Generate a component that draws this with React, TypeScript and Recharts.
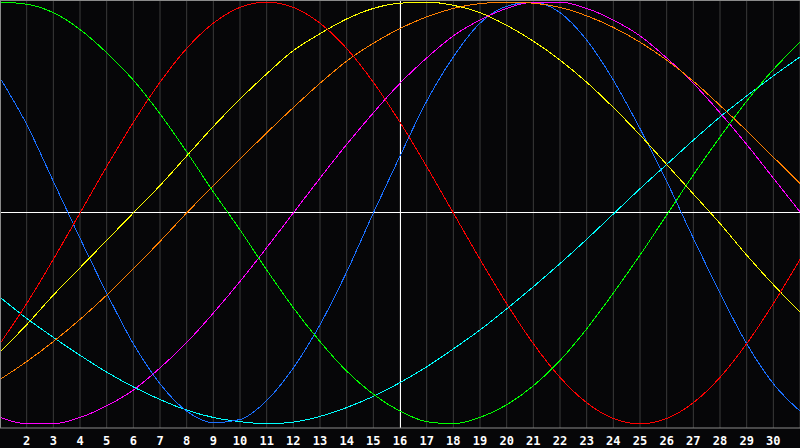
import React from "react";
import {
  LineChart,
  Line,
  XAxis,
  YAxis,
  CartesianGrid,
  ReferenceLine,
} from "recharts";

// day of month on the x axis, cycle values in -100..100
const days = [
  1, 2, 3, 4, 5, 6, 7, 8, 9, 10, 11, 12, 13, 14, 15, 16, 17, 18, 19, 20, 21,
  22, 23, 24, 25, 26, 27, 28, 29, 30, 31,
];
const tickDays = [
  2, 3, 4, 5, 6, 7, 8, 9, 10, 11, 12, 13, 14, 15, 16, 17, 18, 19, 20, 21, 22,
  23, 24, 25, 26, 27, 28, 29, 30,
];

const green = [
  100, 99, 95, 87, 76, 63, 47, 29, 10, -8, -27, -45, -61, -75, -86, -94, -99,
  -100, -97, -91, -82, -70, -55, -38, -20, -1, 18, 36, 53, 68, 81,
];
const red = [
  -62, -43, -22, 0, 22, 43, 62, 78, 90, 97.5, 100, 97.5, 90, 78, 62, 43, 22, 0,
  -22, -43, -62, -78, -90, -97.5, -100, -97.5, -90, -78, -62, -43, -22,
];
const yellow = [
  -66, -53, -39, -26, -13, 0, 13, 27, 41, 54, 66, 77, 85, 92, 97, 99.5, 100,
  98.5, 95, 89, 81.5, 72.5, 62, 50, 37, 23, 9, -5, -20, -34, -47,
];
const orange = [
  -79, -70.5, -61, -50.5, -39, -26.5, -13.5, 0, 13, 25.5, 38, 50, 61.5, 72,
  80.5, 87.5, 93, 97, 99.3, 100, 99.5, 97.5, 93.5, 88, 81, 72.5, 62.5, 51, 39,
  26.5, 14,
];
const magenta = [
  -97, -100, -100, -97, -91.5, -84, -73.5, -61.5, -47.5, -32.5, -16.5, 0, 16.5,
  32.5, 47.5, 61.5, 73.5, 84, 91.5, 97, 100, 100, 97, 91.5, 84, 73.5, 61.5,
  47.5, 32.5, 16.5, 0.5,
];
const blue = [
  64, 42, 15, -12, -38, -62, -81, -94, -99.5, -98, -89, -73.5, -53, -28, 0, 27,
  53, 74, 90, 98, 100, 95, 82, 63, 40, 15, -12, -38, -62, -81, -94,
];
const cyan = [
  -40, -50, -59, -67.5, -75.5, -82.5, -88.5, -93.5, -97, -99, -100, -99.2,
  -96.5, -92.3, -87, -80.5, -73, -64.5, -55.5, -45.5, -35, -24, -12.5, -0.5,
  11.5, 23, 34.5, 45.5, 55.5, 65, 74,
];

const data = days.map((d, i) => ({
  day: d,
  green: green[i],
  red: red[i],
  yellow: yellow[i],
  orange: orange[i],
  magenta: magenta[i],
  blue: blue[i],
  cyan: cyan[i],
}));

const series = [
  { key: "cyan", color: "#00ffff" },
  { key: "blue", color: "#1a6fff" },
  { key: "magenta", color: "#ff00ff" },
  { key: "orange", color: "#ff8000" },
  { key: "yellow", color: "#ffff00" },
  { key: "red", color: "#ff0000" },
  { key: "green", color: "#00ff00" },
];

export default function App() {
  return (
    <div
      style={{
        position: "fixed",
        left: 0,
        top: 0,
        width: 800,
        height: 448,
        background: "#060608",
      }}
    >
      <LineChart
        width={800}
        height={448}
        data={data}
        margin={{ top: 0, right: 0, left: 0, bottom: 0 }}
      >
        <CartesianGrid vertical horizontal={false} stroke="#3a3a3a" />
        <XAxis
          dataKey="day"
          type="number"
          domain={[1, 31]}
          ticks={tickDays}
          interval={0}
          height={20}
          axisLine={{ stroke: "#8a8a8a" }}
          tickLine={false}
          tick={{
            fill: "#ffffff",
            fontSize: 12,
            fontWeight: 700,
            fontFamily: "DejaVu Sans Mono",
          }}
          tickMargin={2}
        />
        <YAxis hide domain={[-102, 101]} />
        <ReferenceLine y={0} stroke="#ffffff" shapeRendering="crispEdges" />
        <ReferenceLine x={16} stroke="#ffffff" shapeRendering="crispEdges" />
        {series.map((s) => (
          <Line
            key={s.key}
            type="monotone"
            dataKey={s.key}
            stroke={s.color}
            strokeWidth={1}
            shapeRendering="crispEdges"
            dot={false}
            activeDot={false}
            isAnimationActive={false}
          />
        ))}
      </LineChart>
      <div
        style={{
          position: "absolute",
          left: 0,
          top: 0,
          width: 799,
          height: 427,
          borderTop: "1px solid #8a8a8a",
          borderLeft: "1px solid #8a8a8a",
          pointerEvents: "none",
        }}
      />
    </div>
  );
}
